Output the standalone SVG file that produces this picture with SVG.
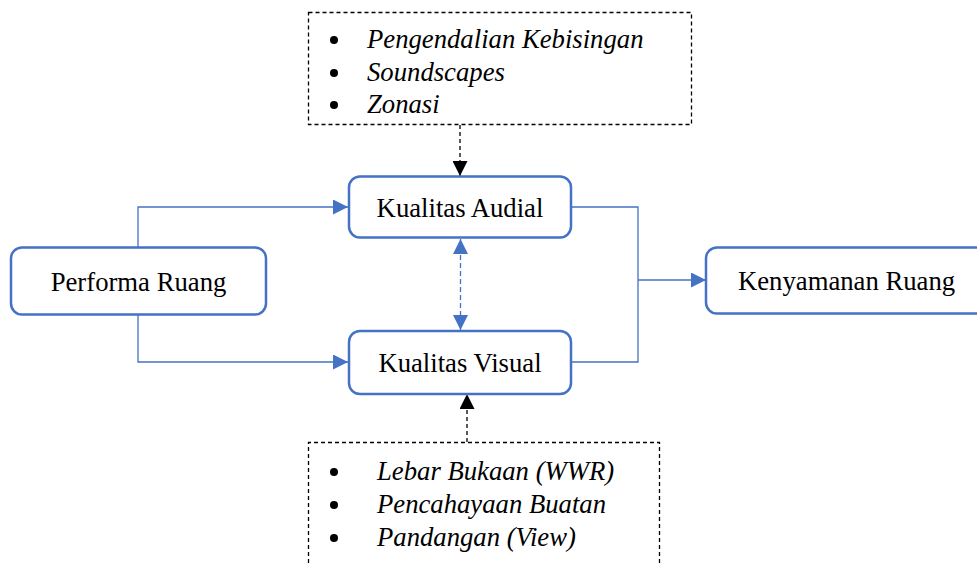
<svg xmlns="http://www.w3.org/2000/svg" width="977" height="563" viewBox="0 0 977 563">
<style>
.node{fill:#fff;stroke:#4472C4;stroke-width:2.5}
.t{font-family:"Liberation Serif","Times New Roman",serif;font-size:26.7px;fill:#000}
.li{font-family:"Liberation Serif","Times New Roman",serif;font-size:26.7px;font-style:italic;fill:#000}
.box{fill:none;stroke:#000;stroke-width:1.3;stroke-dasharray:4 3}
.c{fill:none;stroke:#4472C4;stroke-width:1.3}
.cd{fill:none;stroke:#4472C4;stroke-width:1.3;stroke-dasharray:5 3}
.kd{fill:none;stroke:#000;stroke-width:1.3;stroke-dasharray:4 3}
</style>
<defs>
<marker id="ab" viewBox="0 0 10 10" refX="10" refY="5" markerWidth="15" markerHeight="15" markerUnits="userSpaceOnUse" orient="auto-start-reverse"><path d="M0,0 L10,5 L0,10 z" fill="#4472C4"/></marker>
<marker id="ak" viewBox="0 0 10 10" refX="10" refY="5" markerWidth="15" markerHeight="15" markerUnits="userSpaceOnUse" orient="auto"><path d="M0,0 L10,5 L0,10 z" fill="#000"/></marker>
</defs>
<g id="connectors">
<path class="c" d="M138,247 V207 H348" marker-end="url(#ab)"/>
<path class="c" d="M138,315 V362 H348" marker-end="url(#ab)"/>
<path class="c" d="M571,207 H638 V362 H571"/>
<path class="c" d="M638,280 H706" marker-end="url(#ab)"/>
<path class="cd" d="M460.5,239 V330" marker-start="url(#ab)" marker-end="url(#ab)"/>
<path class="kd" d="M460,125 V176" marker-end="url(#ak)"/>
<path class="kd" d="M467,442 V394" marker-end="url(#ak)"/>
</g>
<g id="factors-audial">
<rect class="box" x="308.5" y="12.5" width="383" height="112"/>
<circle cx="334" cy="40" r="4"/><circle cx="334" cy="73" r="4"/><circle cx="334" cy="105" r="4"/>
<text class="li" x="367" y="48">Pengendalian Kebisingan</text>
<text class="li" x="367" y="81">Soundscapes</text>
<text class="li" x="367" y="113">Zonasi</text>
</g>
<g id="factors-visual">
<path class="box" d="M308.5,563 V442.5 H659.5 V563"/>
<circle cx="334" cy="472" r="4"/><circle cx="334" cy="505" r="4"/><circle cx="334" cy="538" r="4"/>
<text class="li" x="377" y="480">Lebar Bukaan (WWR)</text>
<text class="li" x="377" y="513">Pencahayaan Buatan</text>
<text class="li" x="377" y="546">Pandangan (View)</text>
</g>
<g id="performa">
<rect class="node" x="11" y="247.5" width="255" height="67" rx="11"/>
<text class="t" x="138.5" y="291" text-anchor="middle">Performa Ruang</text>
</g>
<g id="audial">
<rect class="node" x="349" y="176.5" width="222" height="61" rx="11"/>
<text class="t" x="460" y="217" text-anchor="middle">Kualitas Audial</text>
</g>
<g id="visual">
<rect class="node" x="349" y="331" width="222" height="63" rx="11"/>
<text class="t" x="460" y="372" text-anchor="middle">Kualitas Visual</text>
</g>
<g id="kenyamanan">
<rect class="node" x="706" y="247.5" width="290" height="66" rx="11"/>
<text class="t" x="738" y="290">Kenyamanan Ruang</text>
</g>
</svg>
